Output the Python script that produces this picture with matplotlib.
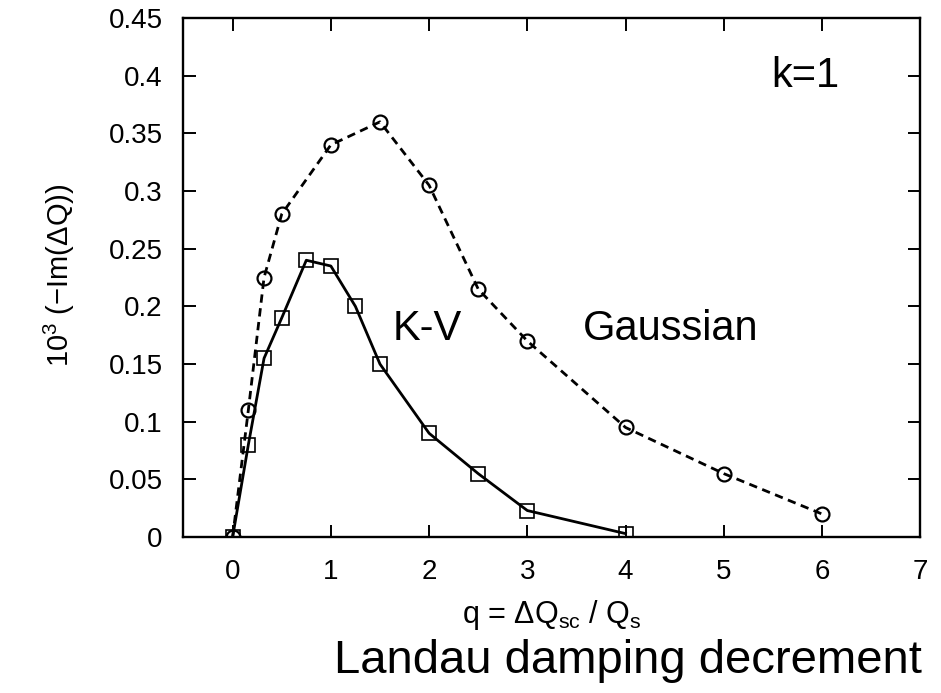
import matplotlib
matplotlib.use("Agg")
import matplotlib.pyplot as plt

plt.rcParams['font.family'] = ['Liberation Sans', 'DejaVu Sans']
plt.rcParams['mathtext.fontset'] = 'custom'
plt.rcParams['mathtext.rm'] = 'Liberation Sans'
plt.rcParams['mathtext.it'] = 'Liberation Sans'
plt.rcParams['mathtext.default'] = 'rm'

# Gaussian beam
q_gauss = [0, 0.16, 0.32, 0.5, 1.0, 1.5, 2.0, 2.5, 3.0, 4.0, 5.0, 6.0]
im_gauss = [0, 0.11, 0.225, 0.28, 0.34, 0.36, 0.305, 0.215, 0.17, 0.095, 0.055, 0.02]

# K-V beam
q_kv = [0, 0.16, 0.32, 0.5, 0.75, 1.0, 1.25, 1.5, 2.0, 2.5, 3.0, 4.0]
im_kv = [0, 0.08, 0.155, 0.19, 0.24, 0.235, 0.2, 0.15, 0.09, 0.055, 0.023, 0.003]

xticks = [0, 1, 2, 3, 4, 5, 6, 7]
yticks = [0, 0.05, 0.1, 0.15, 0.2, 0.25, 0.3, 0.35, 0.4, 0.45]
ytick_labels = ['0', '0.05', '0.1', '0.15', '0.2', '0.25', '0.3', '0.35', '0.4', '0.45']

fig = plt.figure(figsize=(9.41, 6.93), dpi=100)
ax = fig.add_axes([0.195, 0.225, 0.783, 0.749])

ax.plot(q_gauss, im_gauss, color='black', linestyle=(0, (3, 2)), linewidth=2.0,
        marker='o', markersize=10, markerfacecolor='none', markeredgewidth=1.6)
ax.plot(q_kv, im_kv, color='black', linestyle='-', linewidth=2.0,
        marker='s', markersize=10.5, markerfacecolor='none', markeredgewidth=1.2)

ax.set_xlim(-0.5, 7)
ax.set_ylim(0, 0.45)
ax.set_xticks(xticks)
ax.set_xticklabels([str(t) for t in xticks])
ax.set_yticks(yticks)
ax.set_yticklabels(ytick_labels)
ax.tick_params(direction='in', top=True, right=True, length=9, width=1.4,
               labelsize=20)
ax.tick_params(axis='x', pad=16)
ax.tick_params(axis='y', pad=15)
for s in ax.spines.values():
    s.set_linewidth(1.7)

ax.text(5.83, 0.4, 'k=1', fontsize=30, ha='center', va='center')
ax.text(1.98, 0.18, 'K-V', fontsize=30, ha='center', va='center')
ax.text(4.46, 0.18, 'Gaussian', fontsize=30, ha='center', va='center')

ax.set_xlabel(r'q = $\Delta$Q$_{\rm sc}$ / Q$_{\rm s}$', fontsize=22)
ax.xaxis.set_label_coords(0.5, -0.15)
ax.xaxis.label.set_va('center')
ax.set_ylabel(r'10$^3$ ($-$Im($\Delta$Q))', fontsize=21)
ax.yaxis.set_label_coords(-0.168, 0.505)
ax.yaxis.label.set_va('center')

fig.text(0.98, 0.029, 'Landau damping decrement', fontsize=34, ha='right', va='baseline')

fig.savefig('out.png', dpi=100)
